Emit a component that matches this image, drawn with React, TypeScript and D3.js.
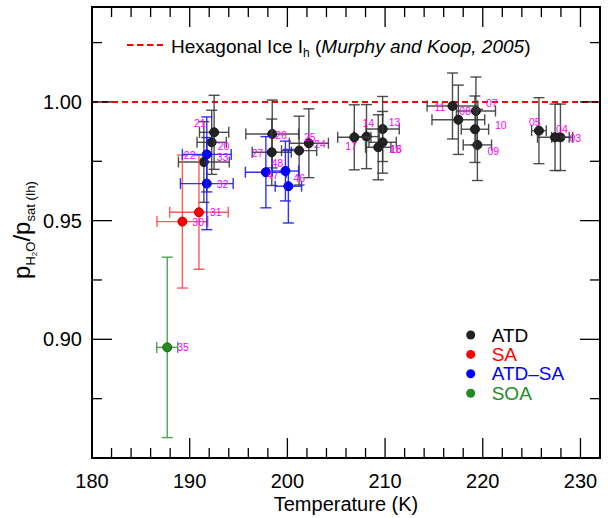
import React from "react";
import * as d3 from "d3";

// ---- data ----
const ids = ["03","04","05","07","08","09","10","11","13","14","16","17","18","20","21","22","24","25","26","27","30","31","32","33","46","47","48","35"];
const groups = ["ATD","ATD","ATD","ATD","ATD","ATD","ATD","ATD","ATD","ATD","ATD","ATD","ATD","ATD","ATD","ATD","ATD","ATD","ATD","ATD","SA","SA","ATD-SA","ATD-SA","ATD-SA","ATD-SA","ATD-SA","SOA"];
const temps = [227.95,227.4,225.75,219.3,217.5,219.45,219.2,216.9,209.75,208.1,209.3,206.85,209.75,192.25,192.5,191.45,201.2,202.2,198.45,198.4,189.25,190.95,191.75,191.75,200.1,197.8,199.8,187.7];
const ratios = [0.9851,0.9851,0.9879,0.9962,0.9925,0.9819,0.9885,0.9983,0.9886,0.9854,0.9809,0.9851,0.983,0.983,0.9872,0.9747,0.9795,0.9826,0.9865,0.9788,0.9496,0.9535,0.9656,0.9779,0.9645,0.9704,0.9709,0.8966];
const tempErr = [0.9,1.8,0.75,2.0,2.7,1.45,1.4,2.6,1.7,1.3,1.3,1.7,1.4,1.5,1.5,2.6,1.8,2.0,2.7,2.0,2.6,3.0,2.7,2.5,1.35,2.1,1.35,1.07];
const ratioErr = [0.014,0.014,0.0139,0.0143,0.0146,0.015,0.014,0.0139,0.0137,0.0135,0.0137,0.0137,0.013,0.0135,0.0156,0.017,0.0145,0.0145,0.0143,0.014,0.028,0.024,0.0194,0.0158,0.0155,0.015,0.0126,0.038];

const legendGroups = ["ATD", "SA", "ATD-SA", "SOA"];
const legendNames = ["ATD", "SA", "ATD\u2013SA", "SOA"];
const xTicks = [180, 190, 200, 210, 220, 230];
const yTicks = [0.90, 0.95, 1.00];
const iceRatio = 1.0;

// ---- layout / style ----
const W = 608, H = 518;
const L = 92, R = 600, T = 7, B = 458;
const colors: Record<string, string> = { "ATD": "#222222", "SA": "#ff0000", "ATD-SA": "#0000ff", "SOA": "#228b22" };
const barColors: Record<string, string> = { "ATD": "#3a3a3a", "SA": "#ff4a4a", "ATD-SA": "#1a1aff", "SOA": "#3a9a3a" };
// label offsets (px) relative to point centre: [dx to left edge, dy to centre]
const labelOffsets: Record<string, [number, number]> = {
  "03": [9, 1], "04": [1, -8], "05": [-10, -8], "07": [10, -8], "08": [1, -8], "09": [10, 6],
  "10": [20, -4], "11": [-18, 1], "13": [6, -7], "14": [-4, -13], "16": [12, 2], "17": [-9, 9],
  "18": [7, 7], "20": [6, 4], "21": [-20, -9], "22": [-20, -7], "24": [15, -6], "25": [-5, -6],
  "26": [3, 1], "27": [-20, 1], "30": [10, 1], "31": [11, 0], "32": [10, 1], "33": [10, 3],
  "35": [10, 0], "46": [5, -8], "47": [1, 3], "48": [-14, -8],
};
const FONT = "'Liberation Sans', Arial, Helvetica, sans-serif";

export default function App() {
  const x = d3.scaleLinear().domain([180, 232]).range([L, R]);
  const y = d3.scaleLinear().domain([0.85, 1.04]).range([B, T]);
  const xMinor = d3.range(180, 232.01, 2);
  const yMinor = d3.range(0.85, 1.0401, 0.025).map(v => +v.toFixed(3));
  const cap = 5.5;
  const majorLen = 20, minorLen = 10;

  const pts = ids.map((id, i) => ({ id, g: groups[i], t: temps[i], r: ratios[i], dt: tempErr[i], dr: ratioErr[i] }));

  return (
    <svg width={W} height={H} style={{ position: "absolute", left: 0, top: 0, background: "#fff" }} fontFamily={FONT}>
      {/* ice line */}
      <line x1={L} x2={R} y1={y(iceRatio)} y2={y(iceRatio)} stroke="#ff0000" strokeWidth={2} strokeDasharray="6,4" />

      {/* points with error bars */}
      {pts.map((p, i) => {
        const cx = x(p.t), cy = y(p.r);
        const x0 = x(p.t - p.dt), x1 = x(p.t + p.dt);
        const y0 = y(p.r + p.dr), y1 = y(p.r - p.dr);
        const bc = barColors[p.g];
        return (
          <g key={i}>
            <g stroke={bc} strokeWidth={1.4} strokeOpacity={0.9}>
              <line x1={x0} x2={x1} y1={cy} y2={cy} />
              <line x1={x0} x2={x0} y1={cy - cap} y2={cy + cap} />
              <line x1={x1} x2={x1} y1={cy - cap} y2={cy + cap} />
              <line x1={cx} x2={cx} y1={y0} y2={y1} />
              <line x1={cx - cap} x2={cx + cap} y1={y0} y2={y0} />
              <line x1={cx - cap} x2={cx + cap} y1={y1} y2={y1} />
            </g>
            <circle cx={cx} cy={cy} r={4.5} fill={colors[p.g]} stroke={d3.color(colors[p.g])!.darker(1).toString()} strokeWidth={1} />
          </g>
        );
      })}

      {/* labels */}
      {pts.map((p, i) => {
        const off = labelOffsets[p.id] || [8, 0];
        return (
          <text key={"l" + i} x={x(p.t) + off[0]} y={y(p.r) + off[1]} dy="0.35em" fontSize={10.5} fill="#ff00ff">{p.id}</text>
        );
      })}

      {/* frame */}
      <rect x={L} y={T} width={R - L} height={B - T} fill="none" stroke="#000" strokeWidth={2} />

      {/* x ticks */}
      {xMinor.map((v, i) => {
        const major = xTicks.includes(Math.round(v));
        const len = major ? majorLen : minorLen;
        return (
          <g key={"xt" + i} stroke="#000" strokeWidth={1.3}>
            <line x1={x(v)} x2={x(v)} y1={B} y2={B - len} />
            <line x1={x(v)} x2={x(v)} y1={T} y2={T + len} />
          </g>
        );
      })}
      {xTicks.map((v, i) => (
        <text key={"xl" + i} x={x(v)} y={488} textAnchor="middle" fontSize={20}>{v}</text>
      ))}

      {/* y ticks */}
      {yMinor.map((v, i) => {
        const major = yTicks.some(t => Math.abs(t - v) < 1e-6);
        const len = major ? majorLen : minorLen;
        return (
          <g key={"yt" + i} stroke="#000" strokeWidth={1.3}>
            <line x1={L} x2={L + len} y1={y(v)} y2={y(v)} />
            <line x1={R} x2={R - len} y1={y(v)} y2={y(v)} />
          </g>
        );
      })}
      {yTicks.map((v, i) => (
        <text key={"yl" + i} x={82} y={y(v)} dy="0.35em" textAnchor="end" fontSize={20}>{v.toFixed(2)}</text>
      ))}

      {/* axis titles */}
      <text x={(L + R) / 2} y={511} textAnchor="middle" fontSize={20}>Temperature (K)</text>
      <text transform="translate(30,230) rotate(-90)" textAnchor="middle" fontSize={24}>
        p<tspan fontSize={13} dy={5}>H</tspan><tspan fontSize={8} dy={2}>2</tspan><tspan fontSize={13} dy={-2}>O</tspan><tspan fontSize={24} dy={-5}>/p</tspan><tspan fontSize={13} dy={5}>sat (Ih)</tspan>
      </text>

      {/* ice legend */}
      <line x1={127} x2={163} y1={45} y2={45} stroke="#ff0000" strokeWidth={2} strokeDasharray="6.5,3.5" />
      <text x={171} y={53} fontSize={19}>
        Hexagonal Ice I<tspan fontSize={12} dy={4}>h</tspan><tspan dy={-4}> (</tspan><tspan fontStyle="italic">Murphy and Koop, 2005</tspan>)
      </text>

      {/* group legend */}
      {legendGroups.map((g, i) => (
        <g key={"lg" + i}>
          <circle cx={470.7} cy={335 + i * 19.4} r={4.5} fill={colors[g]} />
          <text x={491.7} y={335 + i * 19.4} dy="0.35em" fontSize={19} fill={g === "ATD" ? "#000" : colors[g]}>{legendNames[i]}</text>
        </g>
      ))}
    </svg>
  );
}
